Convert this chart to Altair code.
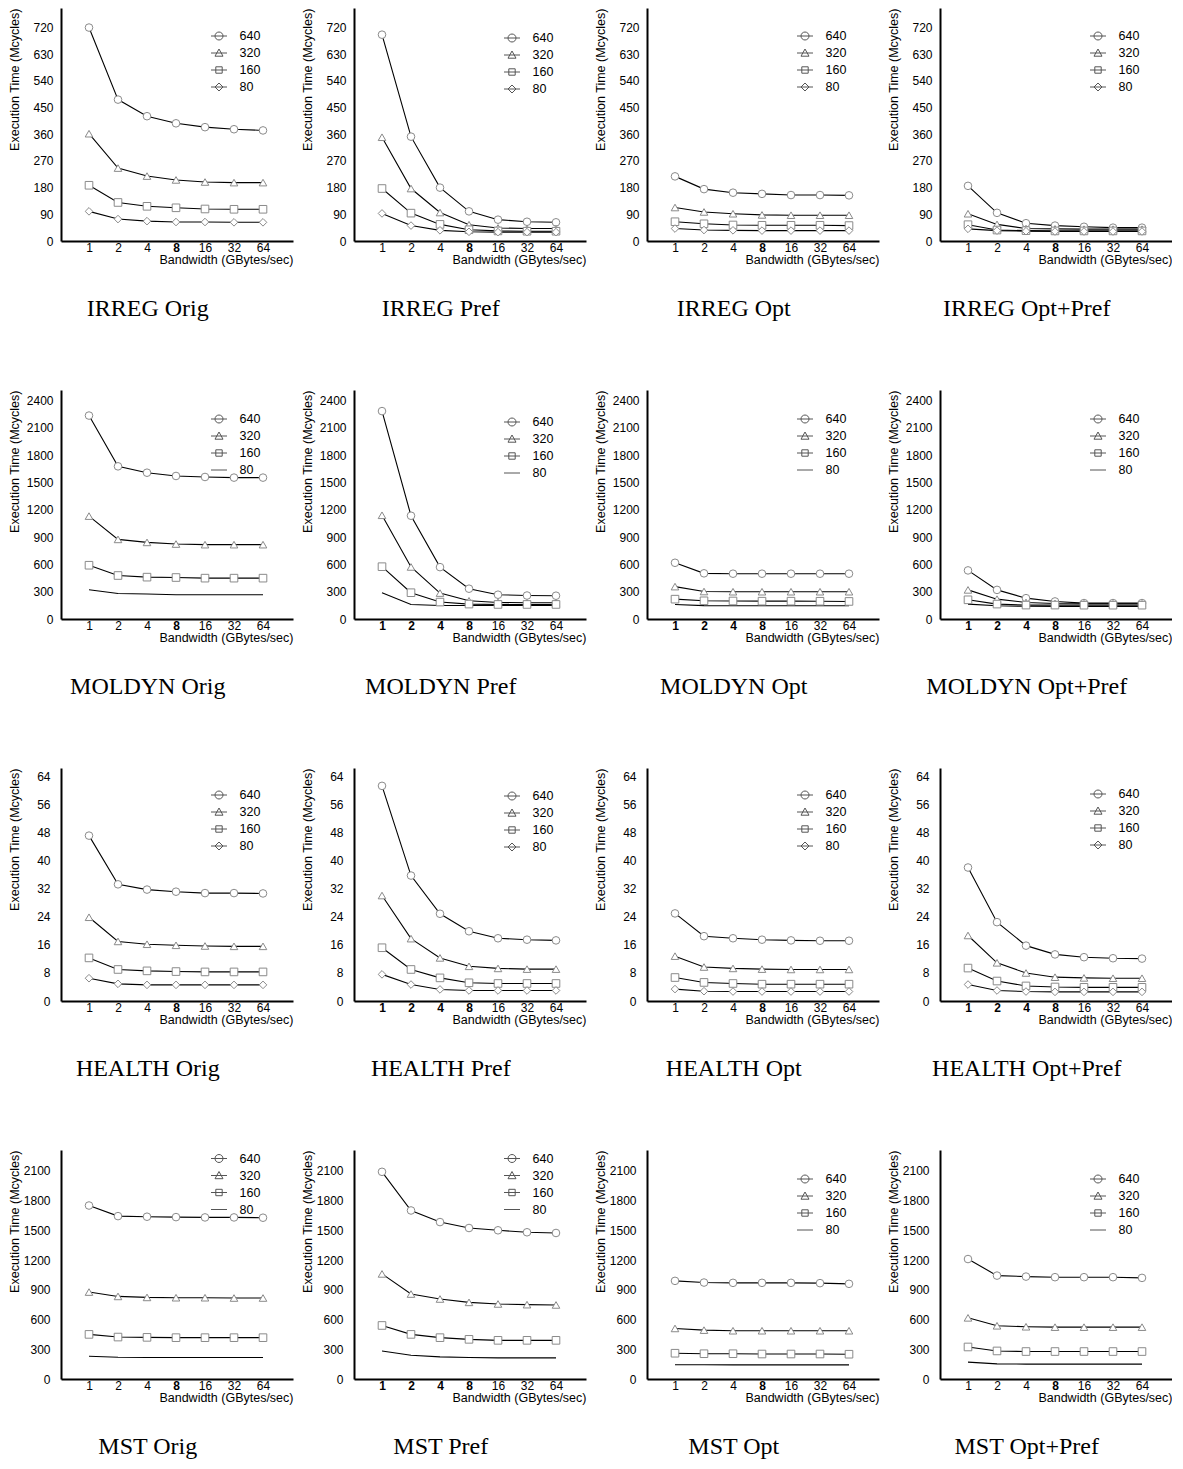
import json
import altair as alt
import pandas as pd

# ---------------- data ----------------
BANDWIDTH = [1, 2, 4, 8, 16, 32, 64]
SERIES = ["640", "320", "160", "80"]
VARIANTS = ["Orig", "Pref", "Opt", "Opt+Pref"]

IRREG_TICKS = [0, 90, 180, 270, 360, 450, 540, 630, 720]
MOLDYN_TICKS = [0, 300, 600, 900, 1200, 1500, 1800, 2100, 2400]
HEALTH_TICKS = [0, 8, 16, 24, 32, 40, 48, 56, 64]
MST_TICKS = [0, 300, 600, 900, 1200, 1500, 1800, 2100]

# each panel: rows are series 640, 320, 160, 80; columns are bandwidth 1..64
IRREG_ORIG = [[720, 477, 421, 397, 384, 377, 373],
              [362, 246, 219, 206, 199, 197, 197],
              [188, 130, 117, 112, 108, 107, 107],
              [100, 74, 67, 64, 64, 63, 63]]
IRREG_PREF = [[696, 352, 180, 100, 72, 65, 63],
              [350, 177, 96, 55, 44, 42, 42],
              [177, 94, 56, 38, 34, 33, 33],
              [93, 52, 36, 31, 30, 30, 30]]
IRREG_OPT = [[218, 175, 163, 159, 155, 155, 154],
             [113, 98, 92, 88, 87, 87, 87],
             [65, 58, 54, 53, 53, 53, 52],
             [42, 37, 36, 35, 35, 35, 35]]
IRREG_OPTPREF = [[186, 95, 60, 52, 48, 45, 45],
                 [92, 56, 42, 41, 40, 40, 40],
                 [55, 37, 35, 34, 34, 34, 34],
                 [41, 35, 33, 32, 32, 32, 32]]

MOLDYN_ORIG = [[2236, 1678, 1608, 1572, 1561, 1554, 1554],
               [1131, 875, 842, 824, 817, 817, 817],
               [591, 478, 460, 456, 449, 449, 449],
               [321, 281, 274, 266, 266, 266, 266]]
MOLDYN_PREF = [[2285, 1135, 570, 333, 267, 258, 256],
               [1140, 572, 285, 200, 182, 178, 178],
               [575, 289, 186, 164, 160, 160, 160],
               [289, 160, 149, 148, 148, 148, 148]]
MOLDYN_OPT = [[618, 502, 498, 498, 498, 498, 498],
              [356, 302, 300, 300, 300, 300, 300],
              [218, 200, 198, 196, 196, 195, 193],
              [160, 147, 145, 145, 145, 145, 145]]
MOLDYN_OPTPREF = [[534, 320, 229, 193, 175, 175, 175],
                  [320, 218, 182, 171, 168, 168, 168],
                  [211, 164, 153, 153, 152, 152, 152],
                  [164, 145, 140, 138, 138, 138, 138]]

HEALTH_ORIG = [[47.2, 33.3, 31.8, 31.2, 30.8, 30.8, 30.7],
               [23.9, 17.0, 16.2, 15.9, 15.7, 15.6, 15.6],
               [12.3, 9.0, 8.6, 8.4, 8.3, 8.3, 8.3],
               [6.5, 4.9, 4.6, 4.6, 4.6, 4.6, 4.6]]
HEALTH_PREF = [[61.4, 35.8, 24.9, 19.9, 17.9, 17.5, 17.3],
               [30.1, 17.8, 12.3, 9.9, 9.3, 9.1, 9.1],
               [15.2, 9.0, 6.6, 5.2, 5.0, 5.0, 5.0],
               [7.6, 4.7, 3.3, 3.0, 3.0, 3.0, 3.0]]
HEALTH_OPT = [[25.0, 18.5, 17.9, 17.5, 17.3, 17.2, 17.2],
              [12.8, 9.7, 9.3, 9.1, 9.0, 9.0, 9.0],
              [6.7, 5.3, 5.0, 4.8, 4.8, 4.8, 4.8],
              [3.4, 2.8, 2.7, 2.7, 2.7, 2.7, 2.7]]
HEALTH_OPTPREF = [[38.1, 22.5, 15.8, 13.3, 12.5, 12.2, 12.1],
                  [18.7, 10.9, 8.0, 6.8, 6.6, 6.5, 6.5],
                  [9.4, 5.7, 4.3, 4.0, 3.9, 3.9, 3.9],
                  [4.7, 3.0, 2.7, 2.6, 2.6, 2.6, 2.6]]

MST_ORIG = [[1750, 1643, 1637, 1633, 1630, 1630, 1627],
            [877, 833, 823, 820, 820, 817, 817],
            [450, 423, 420, 417, 417, 417, 417],
            [230, 220, 217, 217, 217, 217, 217]]
MST_PREF = [[2090, 1700, 1583, 1523, 1500, 1480, 1473],
            [1060, 857, 807, 773, 757, 750, 747],
            [540, 450, 417, 400, 390, 390, 390],
            [283, 240, 223, 217, 213, 213, 213]]
MST_OPT = [[990, 973, 970, 970, 970, 967, 960],
           [510, 493, 487, 487, 487, 487, 487],
           [260, 255, 255, 252, 252, 252, 250],
           [143, 143, 142, 142, 142, 142, 142]]
MST_OPTPREF = [[1210, 1043, 1033, 1027, 1027, 1027, 1020],
               [617, 537, 527, 523, 523, 523, 523],
               [323, 283, 277, 277, 277, 277, 277],
               [170, 153, 150, 150, 150, 150, 150]]

# ---------------- layout / style ----------------
PLOT_LEFT = 60          # page x of the first column's y axis
PLOT_RIGHT = 292        # page x where the first column's x axis ends

ROWS = [
    dict(name="IRREG", panels=[IRREG_ORIG, IRREG_PREF, IRREG_OPT, IRREG_OPTPREF],
         ticks=IRREG_TICKS, ymax=786, height=233, lpad=8, mark80=True,
         legend_top=[28, 30, 28, 28], bold=[[3], [3], [3], [3]]),
    dict(name="MOLDYN", panels=[MOLDYN_ORIG, MOLDYN_PREF, MOLDYN_OPT, MOLDYN_OPTPREF],
         ticks=MOLDYN_TICKS, ymax=2517, height=229, lpad=8, mark80=False,
         legend_top=[29, 32, 29, 29], bold=[[3], [0, 1, 2, 3], [0, 1, 2, 3], [0, 1, 2, 3]]),
    dict(name="HEALTH", panels=[HEALTH_ORIG, HEALTH_PREF, HEALTH_OPT, HEALTH_OPTPREF],
         ticks=HEALTH_TICKS, ymax=66.5, height=233, lpad=11, mark80=True,
         legend_top=[27, 28, 27, 26], bold=[[3], [0, 1, 2, 3], [3], [0, 1, 2, 3]]),
    dict(name="MST", panels=[MST_ORIG, MST_PREF, MST_OPT, MST_OPTPREF],
         ticks=MST_TICKS, ymax=2310, height=229, lpad=11, mark80=False,
         legend_top=[8.5, 8.5, 29, 29], bold=[[3], [0, 1, 2, 3], [3], [3]]),
]

FONT = "Liberation Sans"
POINT_SHAPES = ["circle", "triangle-up", "square", "diamond"]
LEG_CIRCLE = "M-1,0H1M-0.5,0A0.5,0.5,0,1,1,0.5,0A0.5,0.5,0,1,1,-0.5,0Z"
LEG_TRI = "M-1,0H1M0,-0.5L0.5,0.4H-0.5Z"
LEG_SQUARE = "M-1,0H1M-0.4,-0.4H0.4V0.4H-0.4Z"
LEG_DIAMOND = "M-1,0H1M0,-0.5L0.5,0L0,0.5L-0.5,0Z"
LEG_LINE = "M-1,0H1"


def make_panel(values, caption, row, legend_top, bold_idx):
    L = PLOT_LEFT
    W = PLOT_RIGHT - L
    H = row["height"]
    recs = []
    for s, vals in zip(SERIES, values):
        for i, v in enumerate(vals):
            recs.append({"pos": i, "bw": BANDWIDTH[i], "time": v, "series": s})
    df = pd.DataFrame(recs)

    ppu = (W - 58) / 6.0
    xdom = [-28.0 / ppu, 6 + 30.0 / ppu]

    x_axis = alt.Axis(
        values=list(range(len(BANDWIDTH))),
        labelExpr="%s[datum.value]" % json.dumps(BANDWIDTH),
        title="Bandwidth (GBytes/sec)", titleAnchor="end", titlePadding=0,
        titleFont=FONT, titleFontSize=12.5, titleFontWeight="normal", titleColor="black",
        labelFont=FONT, labelFontSize=12, labelColor="black", labelPadding=1,
        labelFontWeight={"condition": {"test": "indexof(%s, datum.value) >= 0" % json.dumps(bold_idx),
                                       "value": "bold"}, "value": "normal"},
        ticks=False, grid=False, domainColor="black", domainWidth=2, labelOverlap=False,
    )
    y_axis = alt.Axis(
        values=row["ticks"], format="d", title="Execution Time (Mcycles)", titleAnchor="end",
        titleX=20.5 - L, titleFont=FONT, titleFontSize=12.5, titleFontWeight="normal",
        titleColor="black", labelFont=FONT, labelFontSize=12, labelColor="black",
        labelPadding=row["lpad"], ticks=False, grid=False, domainColor="black", domainWidth=2,
        labelOverlap=False,
    )
    x = alt.X("pos:Q", scale=alt.Scale(domain=xdom, nice=False, zero=False), axis=x_axis)
    y = alt.Y("time:Q", scale=alt.Scale(domain=[0, row["ymax"]], nice=False), axis=y_axis)

    base = alt.Chart(df)
    lines = base.mark_line(color="black", strokeWidth=1.1).encode(
        x=x, y=y, detail="series:N")

    pts_df = df if row["mark80"] else df[df["series"] != "80"]
    points = alt.Chart(pts_df).mark_point(
        filled=True, fill="white", stroke="#8a8a8a", strokeWidth=1, size=58, opacity=1
    ).encode(
        x=x, y=y,
        shape=alt.Shape("series:N", scale=alt.Scale(domain=SERIES, range=POINT_SHAPES), legend=None),
    )

    leg_range = [LEG_CIRCLE, LEG_TRI, LEG_SQUARE, LEG_DIAMOND if row["mark80"] else LEG_LINE]
    legend_carrier = base.mark_point(opacity=0, size=256, stroke="#555", strokeWidth=1).encode(
        x=x, y=y,
        shape=alt.Shape(
            "series:N", scale=alt.Scale(domain=SERIES, range=leg_range),
            legend=alt.Legend(
                title=None, orient="none", direction="vertical",
                legendX=W - 74 - 8.5, legendY=legend_top - 8.5,
                symbolSize=256, symbolStrokeColor="#555", symbolStrokeWidth=1,
                symbolFillColor="transparent", symbolOpacity=1,
                labelFont=FONT, labelFontSize=12.5, labelColor="black", labelOffset=12,
                rowPadding=2, padding=0,
            ),
        ),
    )

    return alt.layer(lines, points, legend_carrier).resolve_scale(shape="independent").properties(
        width=W, height=H,
        view=alt.ViewBackground(stroke="transparent", strokeWidth=0),
        title=alt.TitleParams(caption, orient="bottom", anchor="middle", frame="bounds",
                              font="Liberation Serif", fontSize=24, fontWeight="normal",
                              color="black", offset=31, dx=-3),
    )


rows = []
for row in ROWS:
    panels = [make_panel(vals, "%s %s" % (row["name"], var), row, lt, b)
              for vals, var, lt, b in zip(row["panels"], VARIANTS, row["legend_top"], row["bold"])]
    rows.append(
        alt.hconcat(*panels, spacing=8)
        .resolve_scale(x="independent", y="independent", shape="independent")
        .resolve_legend(shape="independent")
    )

chart = (
    alt.vconcat(*rows, spacing=69)
    .resolve_scale(x="independent", y="independent", shape="independent")
    .resolve_legend(shape="independent")
    .properties(padding=0)
    .configure_view(stroke="transparent", strokeWidth=0)
    .configure(font=FONT)
)

chart.save("out.html", embed_options={"renderer": "svg", "actions": False})
